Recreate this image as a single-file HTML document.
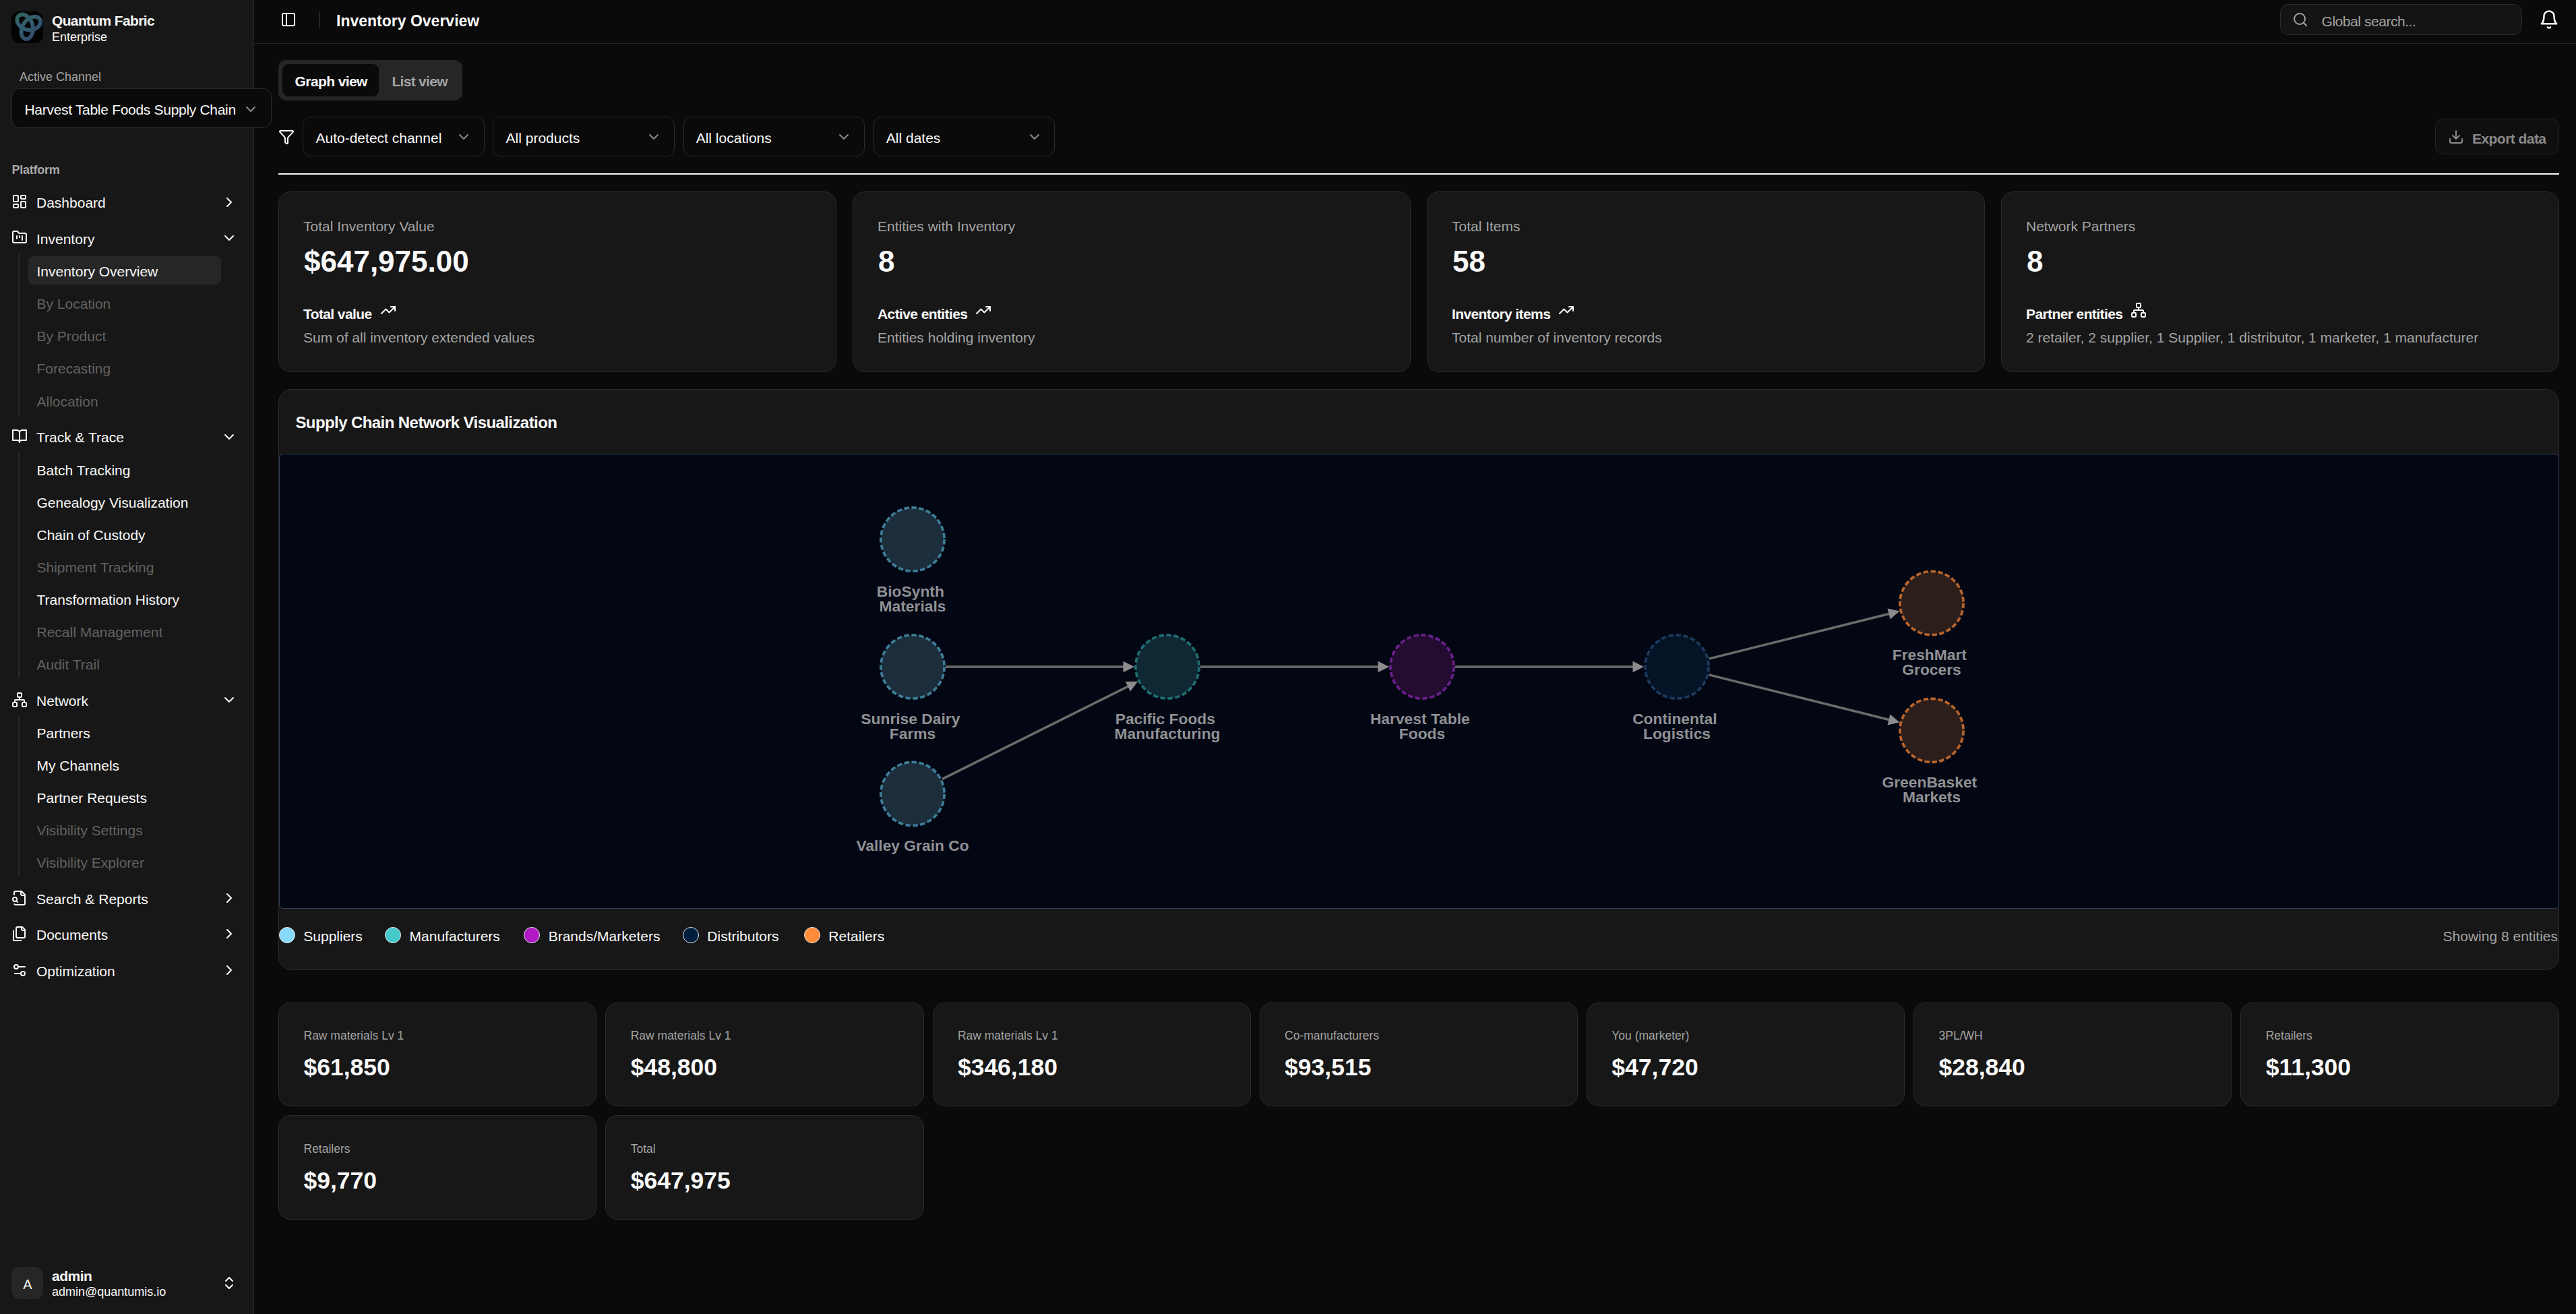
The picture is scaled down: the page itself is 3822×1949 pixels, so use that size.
<!DOCTYPE html>
<html><head><meta charset="utf-8"><title>Inventory Overview</title>
<style>
html,body{margin:0;padding:0;width:3822px;height:1949px;overflow:hidden;background:#0a0a0a;}
body{position:relative;font-family:"Liberation Sans",sans-serif;}
.t{position:absolute;line-height:1;white-space:nowrap;}
.r{position:absolute;}
.i{position:absolute;overflow:visible;}
</style></head><body>
<div class="r" style="left:0.00px;top:0.00px;width:377.00px;height:1949.00px;background:#171717;border-right:1px solid #262626;box-sizing:border-box;"></div>
<svg class="i" style="left:17px;top:17px" width="47" height="47" viewBox="0 0 47 47">
<defs><linearGradient id="lg1" x1="0" y1="0" x2="1" y2="1"><stop offset="0" stop-color="#4d9a9c"/><stop offset="0.5" stop-color="#4f8fb0"/><stop offset="1" stop-color="#5a6aa8"/></linearGradient></defs>
<rect width="47" height="47" rx="12" fill="#030303"/>
<path d="M24.05 27.24L25.72 27.17L27.38 26.97L29.01 26.65L30.59 26.19L32.11 25.62L33.55 24.93L34.91 24.14L36.17 23.25L37.31 22.27L38.34 21.23L39.23 20.13L39.99 18.97L40.60 17.79L41.06 16.59L41.38 15.39L41.54 14.21L41.54 13.05L41.40 11.93L41.11 10.87L40.68 9.89L40.11 8.99L39.41 8.19L38.59 7.50L37.66 6.93L36.63 6.48L35.52 6.18L34.33 6.01L33.08 6.00L31.78 6.13L30.45 6.42L29.10 6.86L27.75 7.45L26.42 8.18L25.10 9.06L23.83 10.08L22.61 11.22L21.46 12.47L20.38 13.84L19.40 15.29L18.51 16.83L17.72 18.43L17.05 20.09L16.50 21.78L16.08 23.49L15.78 25.21L15.60 26.91L15.56 28.58L15.64 30.20L15.84 31.77L16.16 33.25L16.60 34.64L17.14 35.93L17.78 37.09L18.50 38.13L19.31 39.02L20.17 39.77L21.10 40.36L22.06 40.78L23.05 41.03L24.05 41.12L25.05 41.03L26.04 40.78L27.00 40.36L27.93 39.77L28.79 39.02L29.60 38.13L30.32 37.09L30.96 35.93L31.50 34.64L31.94 33.25L32.26 31.77L32.46 30.20L32.54 28.58L32.50 26.91L32.32 25.21L32.02 23.49L31.60 21.78L31.05 20.09L30.38 18.43L29.59 16.83L28.70 15.29L27.72 13.84L26.64 12.47L25.49 11.22L24.27 10.08L23.00 9.06L21.68 8.18L20.35 7.45L19.00 6.86L17.65 6.42L16.32 6.13L15.02 6.00L13.77 6.01L12.58 6.18L11.47 6.48L10.44 6.93L9.51 7.50L8.69 8.19L7.99 8.99L7.42 9.89L6.99 10.87L6.70 11.93L6.56 13.05L6.56 14.21L6.72 15.39L7.04 16.59L7.50 17.79L8.11 18.97L8.87 20.13L9.76 21.23L10.79 22.27L11.93 23.25L13.19 24.14L14.55 24.93L15.99 25.62L17.51 26.19L19.09 26.65L20.72 26.97L22.38 27.17L24.05 27.24Z" fill="none" stroke="url(#lg1)" stroke-width="5.8" stroke-opacity="0.62" stroke-linejoin="round" transform="rotate(10 24 23.5)"/></svg>
<div class="t" style="left:77.00px;top:20.22px;font-size:21px;color:#fafafa;font-weight:700;letter-spacing:-0.65px;">Quantum Fabric</div>
<div class="t" style="left:77.00px;top:46.26px;font-size:18px;color:#fafafa;">Enterprise</div>
<div class="t" style="left:29.00px;top:105.26px;font-size:18px;color:#a3a3a3;">Active Channel</div>
<div class="r" style="left:17.00px;top:131.00px;width:386.00px;height:59.00px;background:#0a0a0a;border:1.5px solid #2a2a2a;border-radius:12px;box-sizing:border-box;"></div>
<div class="t" style="left:36.50px;top:152.02px;font-size:21px;color:#fafafa;letter-spacing:-0.3px;">Harvest Table Foods Supply Chain</div>
<svg class="i" style="left:359.50px;top:150.00px" width="24" height="24" viewBox="0 0 24 24" fill="none" stroke="#8a8a8a" stroke-width="2" stroke-linecap="round" stroke-linejoin="round"><path d="m6 9 6 6 6-6"/></svg>
<div class="t" style="left:17.50px;top:242.96px;font-size:18px;color:#a8a8a8;font-weight:700;letter-spacing:-0.25px;">Platform</div>
<svg class="i" style="left:17.00px;top:287.00px" width="24" height="24" viewBox="0 0 24 24" fill="none" stroke="#fafafa" stroke-width="2" stroke-linecap="round" stroke-linejoin="round"><rect width="7" height="9" x="3" y="3" rx="1"/><rect width="7" height="5" x="14" y="3" rx="1"/><rect width="7" height="9" x="14" y="12" rx="1"/><rect width="7" height="5" x="3" y="16" rx="1"/></svg>
<div class="t" style="left:54.00px;top:290.22px;font-size:21px;color:#fafafa;">Dashboard</div>
<svg class="i" style="left:328.00px;top:287.50px" width="24" height="24" viewBox="0 0 24 24" fill="none" stroke="#fafafa" stroke-width="2" stroke-linecap="round" stroke-linejoin="round"><path d="m9 18 6-6-6-6"/></svg>
<svg class="i" style="left:17.00px;top:340.30px" width="24" height="24" viewBox="0 0 24 24" fill="none" stroke="#fafafa" stroke-width="2" stroke-linecap="round" stroke-linejoin="round"><path d="M4 20h16a2 2 0 0 0 2-2V8a2 2 0 0 0-2-2h-7.93a2 2 0 0 1-1.66-.9l-.82-1.2A2 2 0 0 0 7.93 3H4a2 2 0 0 0-2 2v13c0 1.1.9 2 2 2Z"/><path d="M8 10v4"/><path d="M12 10v2"/><path d="M16 10v6"/></svg>
<div class="t" style="left:54.00px;top:343.52px;font-size:21px;color:#fafafa;">Inventory</div>
<svg class="i" style="left:328.00px;top:340.80px" width="24" height="24" viewBox="0 0 24 24" fill="none" stroke="#fafafa" stroke-width="2" stroke-linecap="round" stroke-linejoin="round"><path d="m6 9 6 6 6-6"/></svg>
<div class="r" style="left:27.00px;top:377.00px;width:1.50px;height:239.00px;background:#2a2a2a;"></div>
<div class="r" style="left:42.00px;top:380.30px;width:286.00px;height:41.30px;background:#262626;border-radius:8px;"></div>
<div class="t" style="left:54.50px;top:391.72px;font-size:21px;color:#fafafa;">Inventory Overview</div>
<div class="t" style="left:54.50px;top:439.97px;font-size:21px;color:#626262;">By Location</div>
<div class="t" style="left:54.50px;top:488.22px;font-size:21px;color:#626262;">By Product</div>
<div class="t" style="left:54.50px;top:536.47px;font-size:21px;color:#626262;">Forecasting</div>
<div class="t" style="left:54.50px;top:584.72px;font-size:21px;color:#626262;">Allocation</div>
<svg class="i" style="left:17.00px;top:635.20px" width="24" height="24" viewBox="0 0 24 24" fill="none" stroke="#fafafa" stroke-width="2" stroke-linecap="round" stroke-linejoin="round"><path d="M2 3h6a4 4 0 0 1 4 4v14a3 3 0 0 0-3-3H2z"/><path d="M22 3h-6a4 4 0 0 0-4 4v14a3 3 0 0 1 3-3h7z"/></svg>
<div class="t" style="left:54.00px;top:638.42px;font-size:21px;color:#fafafa;">Track &amp; Trace</div>
<svg class="i" style="left:328.00px;top:635.70px" width="24" height="24" viewBox="0 0 24 24" fill="none" stroke="#fafafa" stroke-width="2" stroke-linecap="round" stroke-linejoin="round"><path d="m6 9 6 6 6-6"/></svg>
<div class="r" style="left:27.00px;top:671.00px;width:1.50px;height:335.40px;background:#2a2a2a;"></div>
<div class="t" style="left:54.50px;top:686.72px;font-size:21px;color:#fafafa;">Batch Tracking</div>
<div class="t" style="left:54.50px;top:734.69px;font-size:21px;color:#fafafa;">Genealogy Visualization</div>
<div class="t" style="left:54.50px;top:782.66px;font-size:21px;color:#fafafa;">Chain of Custody</div>
<div class="t" style="left:54.50px;top:830.63px;font-size:21px;color:#626262;">Shipment Tracking</div>
<div class="t" style="left:54.50px;top:878.60px;font-size:21px;color:#fafafa;">Transformation History</div>
<div class="t" style="left:54.50px;top:926.57px;font-size:21px;color:#626262;">Recall Management</div>
<div class="t" style="left:54.50px;top:974.54px;font-size:21px;color:#626262;">Audit Trail</div>
<svg class="i" style="left:17.00px;top:1025.80px" width="24" height="24" viewBox="0 0 24 24" fill="none" stroke="#fafafa" stroke-width="2" stroke-linecap="round" stroke-linejoin="round"><rect x="16" y="16" width="6" height="6" rx="1"/><rect x="2" y="16" width="6" height="6" rx="1"/><rect x="9" y="2" width="6" height="6" rx="1"/><path d="M5 16v-3a1 1 0 0 1 1-1h12a1 1 0 0 1 1 1v3"/><path d="M12 12V8"/></svg>
<div class="t" style="left:54.00px;top:1029.02px;font-size:21px;color:#fafafa;">Network</div>
<svg class="i" style="left:328.00px;top:1026.30px" width="24" height="24" viewBox="0 0 24 24" fill="none" stroke="#fafafa" stroke-width="2" stroke-linecap="round" stroke-linejoin="round"><path d="m6 9 6 6 6-6"/></svg>
<div class="r" style="left:27.00px;top:1061.60px;width:1.50px;height:238.30px;background:#2a2a2a;"></div>
<div class="t" style="left:54.50px;top:1076.52px;font-size:21px;color:#fafafa;">Partners</div>
<div class="t" style="left:54.50px;top:1124.57px;font-size:21px;color:#fafafa;">My Channels</div>
<div class="t" style="left:54.50px;top:1172.62px;font-size:21px;color:#fafafa;">Partner Requests</div>
<div class="t" style="left:54.50px;top:1220.67px;font-size:21px;color:#626262;">Visibility Settings</div>
<div class="t" style="left:54.50px;top:1268.72px;font-size:21px;color:#626262;">Visibility Explorer</div>
<svg class="i" style="left:17.00px;top:1319.60px" width="24" height="24" viewBox="0 0 24 24" fill="none" stroke="#fafafa" stroke-width="2" stroke-linecap="round" stroke-linejoin="round"><path d="M14 2v4a2 2 0 0 0 2 2h4"/><path d="M4.268 21a2 2 0 0 0 1.727 1H18a2 2 0 0 0 2-2V7l-5-5H6a2 2 0 0 0-2 2v3"/><path d="m9 18-1.5-1.5"/><circle cx="5" cy="14" r="3"/></svg>
<div class="t" style="left:54.00px;top:1322.82px;font-size:21px;color:#fafafa;">Search &amp; Reports</div>
<svg class="i" style="left:328.00px;top:1320.10px" width="24" height="24" viewBox="0 0 24 24" fill="none" stroke="#fafafa" stroke-width="2" stroke-linecap="round" stroke-linejoin="round"><path d="m9 18 6-6-6-6"/></svg>
<svg class="i" style="left:17.00px;top:1372.90px" width="24" height="24" viewBox="0 0 24 24" fill="none" stroke="#fafafa" stroke-width="2" stroke-linecap="round" stroke-linejoin="round"><path d="M20 7h-3a2 2 0 0 1-2-2V2"/><path d="M9 18a2 2 0 0 1-2-2V4a2 2 0 0 1 2-2h7l4 4v10a2 2 0 0 1-2 2Z"/><path d="M3 7.6v12.8A1.6 1.6 0 0 0 4.6 22h9.8"/></svg>
<div class="t" style="left:54.00px;top:1376.12px;font-size:21px;color:#fafafa;">Documents</div>
<svg class="i" style="left:328.00px;top:1373.40px" width="24" height="24" viewBox="0 0 24 24" fill="none" stroke="#fafafa" stroke-width="2" stroke-linecap="round" stroke-linejoin="round"><path d="m9 18 6-6-6-6"/></svg>
<svg class="i" style="left:17.00px;top:1426.90px" width="24" height="24" viewBox="0 0 24 24" fill="none" stroke="#fafafa" stroke-width="2" stroke-linecap="round" stroke-linejoin="round"><path d="M20 7h-9"/><path d="M14 17H5"/><circle cx="17" cy="17" r="3"/><circle cx="7" cy="7" r="3"/></svg>
<div class="t" style="left:54.00px;top:1430.12px;font-size:21px;color:#fafafa;">Optimization</div>
<svg class="i" style="left:328.00px;top:1427.40px" width="24" height="24" viewBox="0 0 24 24" fill="none" stroke="#fafafa" stroke-width="2" stroke-linecap="round" stroke-linejoin="round"><path d="m9 18 6-6-6-6"/></svg>
<div class="r" style="left:17.40px;top:1879.00px;width:47.00px;height:47.50px;background:#262626;border-radius:12px;"></div>
<div class="t" style="left:41.00px;top:1894.87px;font-size:20px;color:#fafafa;transform:translateX(-50%);">A</div>
<div class="t" style="left:77.00px;top:1882.02px;font-size:21px;color:#fafafa;font-weight:700;letter-spacing:-0.5px;">admin</div>
<div class="t" style="left:77.00px;top:1907.46px;font-size:18px;color:#fafafa;">admin@quantumis.io</div>
<svg class="i" style="left:328.00px;top:1891.00px" width="24" height="24" viewBox="0 0 24 24" fill="none" stroke="#fafafa" stroke-width="2" stroke-linecap="round" stroke-linejoin="round"><path d="m7 15 5 5 5-5"/><path d="m7 9 5-5 5 5"/></svg>
<div class="r" style="left:377.00px;top:64.00px;width:3445.00px;height:1.00px;background:#262626;"></div>
<svg class="i" style="left:416.00px;top:17.00px" width="24" height="24" viewBox="0 0 24 24" fill="none" stroke="#fafafa" stroke-width="2" stroke-linecap="round" stroke-linejoin="round"><rect width="18" height="18" x="3" y="3" rx="2"/><path d="M9 3v18"/></svg>
<div class="r" style="left:473.00px;top:17.00px;width:2.00px;height:24.00px;background:#262626;"></div>
<div class="t" style="left:499.00px;top:19.53px;font-size:23px;color:#fafafa;font-weight:700;">Inventory Overview</div>
<div class="r" style="left:3383.40px;top:5.60px;width:359.00px;height:46.60px;background:#141414;border:1.5px solid #2a2a2a;border-radius:12px;box-sizing:border-box;"></div>
<svg class="i" style="left:3401.00px;top:17.00px" width="24" height="24" viewBox="0 0 24 24" fill="none" stroke="#a3a3a3" stroke-width="2" stroke-linecap="round" stroke-linejoin="round"><circle cx="11" cy="11" r="8"/><path d="m21 21-4.3-4.3"/></svg>
<div class="t" style="left:3444.50px;top:20.62px;font-size:21px;color:#a3a3a3;letter-spacing:-0.45px;">Global search...</div>
<svg class="i" style="left:3766.80px;top:14.00px" width="30" height="30" viewBox="0 0 24 24" fill="none" stroke="#fafafa" stroke-width="2" stroke-linecap="round" stroke-linejoin="round"><path d="M6 8a6 6 0 0 1 12 0c0 7 3 9 3 9H3s3-2 3-9"/><path d="M10.3 21a1.94 1.94 0 0 0 3.4 0"/></svg>
<div class="r" style="left:413.20px;top:89.10px;width:272.70px;height:59.80px;background:#262626;border-radius:12px;"></div>
<div class="r" style="left:419.00px;top:95.10px;width:142.90px;height:47.80px;background:#0a0a0a;border-radius:9px;"></div>
<div class="t" style="left:437.60px;top:109.92px;font-size:21px;color:#fafafa;font-weight:700;letter-spacing:-0.6px;">Graph view</div>
<div class="t" style="left:581.40px;top:109.92px;font-size:21px;color:#a3a3a3;font-weight:700;letter-spacing:-0.7px;">List view</div>
<svg class="i" style="left:413.10px;top:190.80px" width="24" height="24" viewBox="0 0 24 24" fill="none" stroke="#fafafa" stroke-width="2" stroke-linecap="round" stroke-linejoin="round"><path d="M10 20a1 1 0 0 0 .553.895l2 1A1 1 0 0 0 14 21v-7a2 2 0 0 1 .517-1.341L21.74 4.67A1 1 0 0 0 21 3H3a1 1 0 0 0-.742 1.67l7.225 7.989A2 2 0 0 1 10 14z"/></svg>
<div class="r" style="left:449.30px;top:173.20px;width:269.60px;height:59.30px;background:#0a0a0a;border:1.5px solid #2a2a2a;border-radius:12px;box-sizing:border-box;"></div>
<div class="t" style="left:468.50px;top:194.42px;font-size:21px;color:#fafafa;">Auto-detect channel</div>
<svg class="i" style="left:676.20px;top:191.20px" width="24" height="24" viewBox="0 0 24 24" fill="none" stroke="#8a8a8a" stroke-width="2" stroke-linecap="round" stroke-linejoin="round"><path d="m6 9 6 6 6-6"/></svg>
<div class="r" style="left:731.40px;top:173.20px;width:269.60px;height:59.30px;background:#0a0a0a;border:1.5px solid #2a2a2a;border-radius:12px;box-sizing:border-box;"></div>
<div class="t" style="left:750.60px;top:194.42px;font-size:21px;color:#fafafa;">All products</div>
<svg class="i" style="left:958.30px;top:191.20px" width="24" height="24" viewBox="0 0 24 24" fill="none" stroke="#8a8a8a" stroke-width="2" stroke-linecap="round" stroke-linejoin="round"><path d="m6 9 6 6 6-6"/></svg>
<div class="r" style="left:1013.50px;top:173.20px;width:269.60px;height:59.30px;background:#0a0a0a;border:1.5px solid #2a2a2a;border-radius:12px;box-sizing:border-box;"></div>
<div class="t" style="left:1032.70px;top:194.42px;font-size:21px;color:#fafafa;">All locations</div>
<svg class="i" style="left:1240.40px;top:191.20px" width="24" height="24" viewBox="0 0 24 24" fill="none" stroke="#8a8a8a" stroke-width="2" stroke-linecap="round" stroke-linejoin="round"><path d="m6 9 6 6 6-6"/></svg>
<div class="r" style="left:1295.60px;top:173.20px;width:269.60px;height:59.30px;background:#0a0a0a;border:1.5px solid #2a2a2a;border-radius:12px;box-sizing:border-box;"></div>
<div class="t" style="left:1314.80px;top:194.42px;font-size:21px;color:#fafafa;">All dates</div>
<svg class="i" style="left:1522.50px;top:191.20px" width="24" height="24" viewBox="0 0 24 24" fill="none" stroke="#8a8a8a" stroke-width="2" stroke-linecap="round" stroke-linejoin="round"><path d="m6 9 6 6 6-6"/></svg>
<div class="r" style="left:3613.00px;top:176.40px;width:183.60px;height:53.00px;background:#0f0f0f;border:1.5px solid #222;border-radius:12px;box-sizing:border-box;"></div>
<svg class="i" style="left:3632.00px;top:191.00px" width="24" height="24" viewBox="0 0 24 24" fill="none" stroke="#8a8a8a" stroke-width="2" stroke-linecap="round" stroke-linejoin="round"><path d="M21 15v4a2 2 0 0 1-2 2H5a2 2 0 0 1-2-2v-4"/><polyline points="7 10 12 15 17 10"/><line x1="12" x2="12" y1="15" y2="3"/></svg>
<div class="t" style="left:3668.00px;top:194.82px;font-size:21px;color:#8a8a8a;font-weight:700;letter-spacing:-0.55px;">Export data</div>
<div class="r" style="left:413.00px;top:257.00px;width:3384.00px;height:2.00px;background:#f5f5f5;"></div>
<div class="r" style="left:413.00px;top:283.50px;width:828.00px;height:268.00px;background:#171717;border:1.5px solid #2a2b2a;border-radius:18px;box-sizing:border-box;"></div>
<div class="t" style="left:450.00px;top:325.22px;font-size:21px;color:#a3a3a3;">Total Inventory Value</div>
<div class="t" style="left:451.00px;top:366.25px;font-size:44px;color:#fafafa;font-weight:700;">$647,975.00</div>
<div class="t" style="left:450px;top:453.22px;font-size:21px;font-weight:700;letter-spacing:-0.6px;color:#fafafa;display:flex;align-items:center;gap:12px;line-height:1">Total value<svg width="24" height="24" viewBox="0 0 24 24" fill="none" stroke="#fafafa" stroke-width="2" stroke-linecap="round" stroke-linejoin="round" style="position:relative;top:-5px"><polyline points="22 7 13.5 15.5 8.5 10.5 2 17"/><polyline points="16 7 22 7 22 13"/></svg></div>
<div class="t" style="left:450.00px;top:490.02px;font-size:21px;color:#a3a3a3;">Sum of all inventory extended values</div>
<div class="r" style="left:1265.00px;top:283.50px;width:828.00px;height:268.00px;background:#171717;border:1.5px solid #2a2b2a;border-radius:18px;box-sizing:border-box;"></div>
<div class="t" style="left:1302.00px;top:325.22px;font-size:21px;color:#a3a3a3;">Entities with Inventory</div>
<div class="t" style="left:1303.00px;top:366.25px;font-size:44px;color:#fafafa;font-weight:700;">8</div>
<div class="t" style="left:1302px;top:453.22px;font-size:21px;font-weight:700;letter-spacing:-0.6px;color:#fafafa;display:flex;align-items:center;gap:12px;line-height:1">Active entities<svg width="24" height="24" viewBox="0 0 24 24" fill="none" stroke="#fafafa" stroke-width="2" stroke-linecap="round" stroke-linejoin="round" style="position:relative;top:-5px"><polyline points="22 7 13.5 15.5 8.5 10.5 2 17"/><polyline points="16 7 22 7 22 13"/></svg></div>
<div class="t" style="left:1302.00px;top:490.02px;font-size:21px;color:#a3a3a3;">Entities holding inventory</div>
<div class="r" style="left:2117.00px;top:283.50px;width:828.00px;height:268.00px;background:#171717;border:1.5px solid #2a2b2a;border-radius:18px;box-sizing:border-box;"></div>
<div class="t" style="left:2154.00px;top:325.22px;font-size:21px;color:#a3a3a3;">Total Items</div>
<div class="t" style="left:2155.00px;top:366.25px;font-size:44px;color:#fafafa;font-weight:700;">58</div>
<div class="t" style="left:2154px;top:453.22px;font-size:21px;font-weight:700;letter-spacing:-0.6px;color:#fafafa;display:flex;align-items:center;gap:12px;line-height:1">Inventory items<svg width="24" height="24" viewBox="0 0 24 24" fill="none" stroke="#fafafa" stroke-width="2" stroke-linecap="round" stroke-linejoin="round" style="position:relative;top:-5px"><polyline points="22 7 13.5 15.5 8.5 10.5 2 17"/><polyline points="16 7 22 7 22 13"/></svg></div>
<div class="t" style="left:2154.00px;top:490.02px;font-size:21px;color:#a3a3a3;">Total number of inventory records</div>
<div class="r" style="left:2969.00px;top:283.50px;width:828.00px;height:268.00px;background:#171717;border:1.5px solid #2a2b2a;border-radius:18px;box-sizing:border-box;"></div>
<div class="t" style="left:3006.00px;top:325.22px;font-size:21px;color:#a3a3a3;">Network Partners</div>
<div class="t" style="left:3007.00px;top:366.25px;font-size:44px;color:#fafafa;font-weight:700;">8</div>
<div class="t" style="left:3006px;top:453.22px;font-size:21px;font-weight:700;letter-spacing:-0.6px;color:#fafafa;display:flex;align-items:center;gap:12px;line-height:1">Partner entities<svg width="24" height="24" viewBox="0 0 24 24" fill="none" stroke="#fafafa" stroke-width="2" stroke-linecap="round" stroke-linejoin="round" style="position:relative;top:-5px"><rect x="16" y="16" width="6" height="6" rx="1"/><rect x="2" y="16" width="6" height="6" rx="1"/><rect x="9" y="2" width="6" height="6" rx="1"/><path d="M5 16v-3a1 1 0 0 1 1-1h12a1 1 0 0 1 1 1v3"/><path d="M12 12V8"/></svg></div>
<div class="t" style="left:3006.00px;top:490.02px;font-size:21px;color:#a3a3a3;">2 retailer, 2 supplier, 1 Supplier, 1 distributor, 1 marketer, 1 manufacturer</div>
<div class="r" style="left:413.00px;top:576.60px;width:3384.00px;height:862.00px;background:#171717;border:1.5px solid #2a2b2a;border-radius:20px;box-sizing:border-box;"></div>
<div class="t" style="left:438.40px;top:615.28px;font-size:24px;color:#fafafa;font-weight:700;letter-spacing:-0.58px;">Supply Chain Network Visualization</div>
<div class="r" style="left:414.00px;top:673.00px;width:3382.50px;height:674.50px;background:#030713;border:1.3px solid #334155;border-radius:6px;box-sizing:border-box;"></div>
<div class="r" style="left:414.00px;top:1375.00px;width:24.00px;height:24.00px;background:#87dafc;border:1.5px solid #e5e7eb;border-radius:12px;box-sizing:border-box;"></div>
<div class="t" style="left:450.30px;top:1378.22px;font-size:21px;color:#fafafa;">Suppliers</div>
<div class="r" style="left:570.70px;top:1375.00px;width:24.00px;height:24.00px;background:#45c9c9;border:1.5px solid #e5e7eb;border-radius:12px;box-sizing:border-box;"></div>
<div class="t" style="left:607.60px;top:1378.22px;font-size:21px;color:#fafafa;">Manufacturers</div>
<div class="r" style="left:777.00px;top:1375.00px;width:24.00px;height:24.00px;background:#b01ac4;border:1.5px solid #e5e7eb;border-radius:12px;box-sizing:border-box;"></div>
<div class="t" style="left:813.70px;top:1378.22px;font-size:21px;color:#fafafa;">Brands/Marketers</div>
<div class="r" style="left:1013.00px;top:1375.00px;width:24.00px;height:24.00px;background:#001f3f;border:1.5px solid #e5e7eb;border-radius:12px;box-sizing:border-box;"></div>
<div class="t" style="left:1049.30px;top:1378.22px;font-size:21px;color:#fafafa;">Distributors</div>
<div class="r" style="left:1193.00px;top:1375.00px;width:24.00px;height:24.00px;background:#ff8c3a;border:1.5px solid #e5e7eb;border-radius:12px;box-sizing:border-box;"></div>
<div class="t" style="left:1229.30px;top:1378.22px;font-size:21px;color:#fafafa;">Retailers</div>
<div class="t" style="right:27.00px;top:1378.02px;font-size:21px;color:#a3a3a3;">Showing 8 entities</div>
<div class="r" style="left:413.20px;top:1487.00px;width:472.20px;height:154.20px;background:#171717;border:1.5px solid #2a2b2a;border-radius:18px;box-sizing:border-box;"></div>
<div class="t" style="left:450.50px;top:1528.49px;font-size:17.5px;color:#a3a3a3;">Raw materials Lv 1</div>
<div class="t" style="left:450.50px;top:1566.15px;font-size:35.5px;color:#fafafa;font-weight:700;">$61,850</div>
<div class="r" style="left:898.40px;top:1487.00px;width:472.20px;height:154.20px;background:#171717;border:1.5px solid #2a2b2a;border-radius:18px;box-sizing:border-box;"></div>
<div class="t" style="left:935.70px;top:1528.49px;font-size:17.5px;color:#a3a3a3;">Raw materials Lv 1</div>
<div class="t" style="left:935.70px;top:1566.15px;font-size:35.5px;color:#fafafa;font-weight:700;">$48,800</div>
<div class="r" style="left:1383.60px;top:1487.00px;width:472.20px;height:154.20px;background:#171717;border:1.5px solid #2a2b2a;border-radius:18px;box-sizing:border-box;"></div>
<div class="t" style="left:1420.90px;top:1528.49px;font-size:17.5px;color:#a3a3a3;">Raw materials Lv 1</div>
<div class="t" style="left:1420.90px;top:1566.15px;font-size:35.5px;color:#fafafa;font-weight:700;">$346,180</div>
<div class="r" style="left:1868.80px;top:1487.00px;width:472.20px;height:154.20px;background:#171717;border:1.5px solid #2a2b2a;border-radius:18px;box-sizing:border-box;"></div>
<div class="t" style="left:1906.10px;top:1528.49px;font-size:17.5px;color:#a3a3a3;">Co-manufacturers</div>
<div class="t" style="left:1906.10px;top:1566.15px;font-size:35.5px;color:#fafafa;font-weight:700;">$93,515</div>
<div class="r" style="left:2354.00px;top:1487.00px;width:472.20px;height:154.20px;background:#171717;border:1.5px solid #2a2b2a;border-radius:18px;box-sizing:border-box;"></div>
<div class="t" style="left:2391.30px;top:1528.49px;font-size:17.5px;color:#a3a3a3;">You (marketer)</div>
<div class="t" style="left:2391.30px;top:1566.15px;font-size:35.5px;color:#fafafa;font-weight:700;">$47,720</div>
<div class="r" style="left:2839.20px;top:1487.00px;width:472.20px;height:154.20px;background:#171717;border:1.5px solid #2a2b2a;border-radius:18px;box-sizing:border-box;"></div>
<div class="t" style="left:2876.50px;top:1528.49px;font-size:17.5px;color:#a3a3a3;">3PL/WH</div>
<div class="t" style="left:2876.50px;top:1566.15px;font-size:35.5px;color:#fafafa;font-weight:700;">$28,840</div>
<div class="r" style="left:3324.40px;top:1487.00px;width:472.20px;height:154.20px;background:#171717;border:1.5px solid #2a2b2a;border-radius:18px;box-sizing:border-box;"></div>
<div class="t" style="left:3361.70px;top:1528.49px;font-size:17.5px;color:#a3a3a3;">Retailers</div>
<div class="t" style="left:3361.70px;top:1566.15px;font-size:35.5px;color:#fafafa;font-weight:700;">$11,300</div>
<div class="r" style="left:413.20px;top:1654.40px;width:472.20px;height:154.20px;background:#171717;border:1.5px solid #2a2b2a;border-radius:18px;box-sizing:border-box;"></div>
<div class="t" style="left:450.50px;top:1695.89px;font-size:17.5px;color:#a3a3a3;">Retailers</div>
<div class="t" style="left:450.50px;top:1733.55px;font-size:35.5px;color:#fafafa;font-weight:700;">$9,770</div>
<div class="r" style="left:898.40px;top:1654.40px;width:472.20px;height:154.20px;background:#171717;border:1.5px solid #2a2b2a;border-radius:18px;box-sizing:border-box;"></div>
<div class="t" style="left:935.70px;top:1695.89px;font-size:17.5px;color:#a3a3a3;">Total</div>
<div class="t" style="left:935.70px;top:1733.55px;font-size:35.5px;color:#fafafa;font-weight:700;">$647,975</div>
<svg class="i" style="left:0;top:0" width="3822" height="1949" viewBox="0 0 3822 1949"><line x1="1403.00" y1="989.00" x2="1668.50" y2="989.00" stroke="#6b6b6b" stroke-width="3.5"/><polygon points="1683.00,989.00 1666.50,997.20 1666.50,980.80" fill="#8c8c8c"/><line x1="1397.85" y1="1155.63" x2="1675.17" y2="1017.34" stroke="#6b6b6b" stroke-width="3.5"/><polygon points="1688.15,1010.87 1677.04,1025.57 1669.72,1010.89" fill="#8c8c8c"/><line x1="1781.00" y1="989.00" x2="2046.50" y2="989.00" stroke="#6b6b6b" stroke-width="3.5"/><polygon points="2061.00,989.00 2044.50,997.20 2044.50,980.80" fill="#8c8c8c"/><line x1="2159.00" y1="989.00" x2="2424.50" y2="989.00" stroke="#6b6b6b" stroke-width="3.5"/><polygon points="2439.00,989.00 2422.50,997.20 2422.50,980.80" fill="#8c8c8c"/><line x1="2535.54" y1="977.13" x2="2804.39" y2="909.99" stroke="#6b6b6b" stroke-width="3.5"/><polygon points="2818.46,906.47 2804.44,918.43 2800.46,902.51" fill="#8c8c8c"/><line x1="2535.54" y1="1000.87" x2="2804.39" y2="1068.01" stroke="#6b6b6b" stroke-width="3.5"/><polygon points="2818.46,1071.53 2800.46,1075.49 2804.44,1059.57" fill="#8c8c8c"/><circle cx="1354" cy="800" r="47.1" fill="#1c2d3c" stroke="#3e7d96" stroke-width="3.7" stroke-dasharray="7.5 3.5"/><text x="1354" y="884.60" text-anchor="middle" font-family="Liberation Sans" font-weight="700" font-size="22.8" fill="#909195">BioSynth </text><text x="1354" y="906.70" text-anchor="middle" font-family="Liberation Sans" font-weight="700" font-size="22.8" fill="#909195">Materials</text><circle cx="1354" cy="989" r="47.1" fill="#1c2d3c" stroke="#3e7d96" stroke-width="3.7" stroke-dasharray="7.5 3.5"/><text x="1354" y="1073.60" text-anchor="middle" font-family="Liberation Sans" font-weight="700" font-size="22.8" fill="#909195">Sunrise Dairy </text><text x="1354" y="1095.70" text-anchor="middle" font-family="Liberation Sans" font-weight="700" font-size="22.8" fill="#909195">Farms</text><circle cx="1354" cy="1177.5" r="47.1" fill="#1c2d3c" stroke="#3e7d96" stroke-width="3.7" stroke-dasharray="7.5 3.5"/><text x="1354" y="1262.10" text-anchor="middle" font-family="Liberation Sans" font-weight="700" font-size="22.8" fill="#909195">Valley Grain Co</text><circle cx="1732" cy="989" r="47.1" fill="#102833" stroke="#1f6e73" stroke-width="3.7" stroke-dasharray="7.5 3.5"/><text x="1732" y="1073.60" text-anchor="middle" font-family="Liberation Sans" font-weight="700" font-size="22.8" fill="#909195">Pacific Foods </text><text x="1732" y="1095.70" text-anchor="middle" font-family="Liberation Sans" font-weight="700" font-size="22.8" fill="#909195">Manufacturing</text><circle cx="2110" cy="989" r="47.1" fill="#230c30" stroke="#6a1f8a" stroke-width="3.7" stroke-dasharray="7.5 3.5"/><text x="2110" y="1073.60" text-anchor="middle" font-family="Liberation Sans" font-weight="700" font-size="22.8" fill="#909195">Harvest Table </text><text x="2110" y="1095.70" text-anchor="middle" font-family="Liberation Sans" font-weight="700" font-size="22.8" fill="#909195">Foods</text><circle cx="2488" cy="989" r="47.1" fill="#051326" stroke="#1c3a5c" stroke-width="3.7" stroke-dasharray="7.5 3.5"/><text x="2488" y="1073.60" text-anchor="middle" font-family="Liberation Sans" font-weight="700" font-size="22.8" fill="#909195">Continental </text><text x="2488" y="1095.70" text-anchor="middle" font-family="Liberation Sans" font-weight="700" font-size="22.8" fill="#909195">Logistics</text><circle cx="2866" cy="894.6" r="47.1" fill="#2c1f1b" stroke="#b8642c" stroke-width="3.7" stroke-dasharray="7.5 3.5"/><text x="2866" y="979.20" text-anchor="middle" font-family="Liberation Sans" font-weight="700" font-size="22.8" fill="#909195">FreshMart </text><text x="2866" y="1001.30" text-anchor="middle" font-family="Liberation Sans" font-weight="700" font-size="22.8" fill="#909195">Grocers</text><circle cx="2866" cy="1083.4" r="47.1" fill="#2c1f1b" stroke="#b8642c" stroke-width="3.7" stroke-dasharray="7.5 3.5"/><text x="2866" y="1168.00" text-anchor="middle" font-family="Liberation Sans" font-weight="700" font-size="22.8" fill="#909195">GreenBasket </text><text x="2866" y="1190.10" text-anchor="middle" font-family="Liberation Sans" font-weight="700" font-size="22.8" fill="#909195">Markets</text></svg>
</body></html>
